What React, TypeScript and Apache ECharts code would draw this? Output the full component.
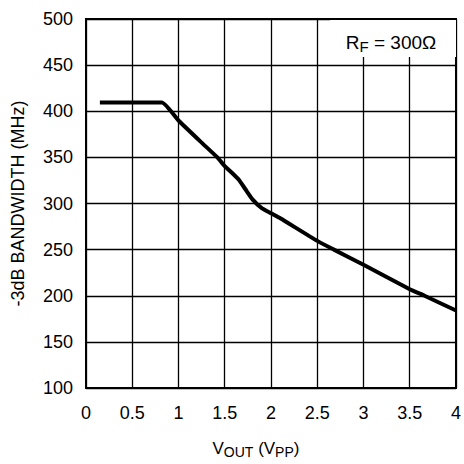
import React, { useEffect, useRef } from "react";
import * as echarts from "echarts";

// -3dB bandwidth (MHz) against output swing (Vpp), RF = 300 ohm
const vout: number[] = [0.15, 0.82, 1.0, 1.25, 1.42, 1.5, 1.58, 1.65, 1.72, 1.8, 1.9, 2.0, 2.1, 2.5, 2.68, 3.0, 3.5, 3.66, 4.0];
const bandwidth: number[] = [409.5, 409.5, 390, 366, 350, 340.5, 333, 326, 316, 304.5, 295, 289.5, 284, 259.5, 250, 233.5, 207, 200, 184];
const xTicks: number[] = [0, 0.5, 1, 1.5, 2, 2.5, 3, 3.5, 4];
const yTicks: number[] = [100, 150, 200, 250, 300, 350, 400, 450, 500];

const FONT = "Liberation Sans, Arial, sans-serif";

export default function App() {
  const ref = useRef<HTMLDivElement>(null);

  useEffect(() => {
    if (!ref.current) return;
    const chart = echarts.init(ref.current, undefined, { renderer: "svg" });
    chart.setOption({
      animation: false,
      backgroundColor: "#fff",
      grid: {
        left: 86,
        top: 19,
        width: 371,
        height: 371,
        show: true,
        borderColor: "#000",
        borderWidth: 2,
      },
      xAxis: {
        type: "value",
        min: xTicks[0],
        max: xTicks[xTicks.length - 1],
        interval: xTicks[1] - xTicks[0],
        axisLine: { show: true, lineStyle: { color: "#000", width: 2 } },
        axisTick: { show: false },
        splitLine: { show: true, lineStyle: { color: "#000", width: 1.3 } },
        axisLabel: {
          color: "#000",
          fontFamily: FONT,
          fontSize: 18,
          margin: 16,
          formatter: (v: number) => String(v),
        },
        name: "{v|V}{s|OUT}{v| (V}{s|PP}{v|)}",
        nameLocation: "middle",
        nameGap: 49,
        nameTextStyle: {
          padding: [0, 30, 0, 0],
          rich: {
            v: { fontFamily: FONT, fontSize: 17, color: "#000" },
            s: { fontFamily: FONT, fontSize: 14, color: "#000", padding: [8, 0, 0, 0] },
          },
        },
      },
      yAxis: {
        type: "value",
        min: yTicks[0],
        max: yTicks[yTicks.length - 1],
        interval: yTicks[1] - yTicks[0],
        axisLine: { show: true, lineStyle: { color: "#000", width: 2 } },
        axisTick: { show: false },
        splitLine: { show: true, lineStyle: { color: "#000", width: 1.3 } },
        axisLabel: {
          color: "#000",
          fontFamily: FONT,
          fontSize: 18,
          margin: 13,
        },
        name: "-3dB BANDWIDTH (MHz)",
        nameLocation: "middle",
        nameGap: 59,
        nameTextStyle: { color: "#000", fontFamily: FONT, fontSize: 18 },
      },
      graphic: [
        {
          type: "rect",
          z: 50,
          shape: { x: 330, y: 20, width: 126, height: 37 },
          style: { fill: "#fff" },
        },
        {
          type: "text",
          z: 51,
          x: 391,
          y: 42,
          style: {
            text: "{v|R}{s|F}{v| = 300Ω}",
            align: "center",
            verticalAlign: "middle",
            rich: {
              v: { fontFamily: FONT, fontSize: 19, fill: "#000" },
              s: { fontFamily: FONT, fontSize: 15, fill: "#000", padding: [9, 0, 0, 0] },
            },
          },
        },
      ],
      series: [
        {
          type: "line",
          data: vout.map((x, i) => [x, bandwidth[i]]),
          showSymbol: false,
          smooth: 0.15,
          lineStyle: { color: "#000", width: 4, join: "round" },
          z: 10,
        },
      ],
    });
    return () => chart.dispose();
  }, []);

  return (
    <div
      ref={ref}
      style={{ position: "fixed", left: 0, top: 0, width: 464, height: 464 }}
    />
  );
}
